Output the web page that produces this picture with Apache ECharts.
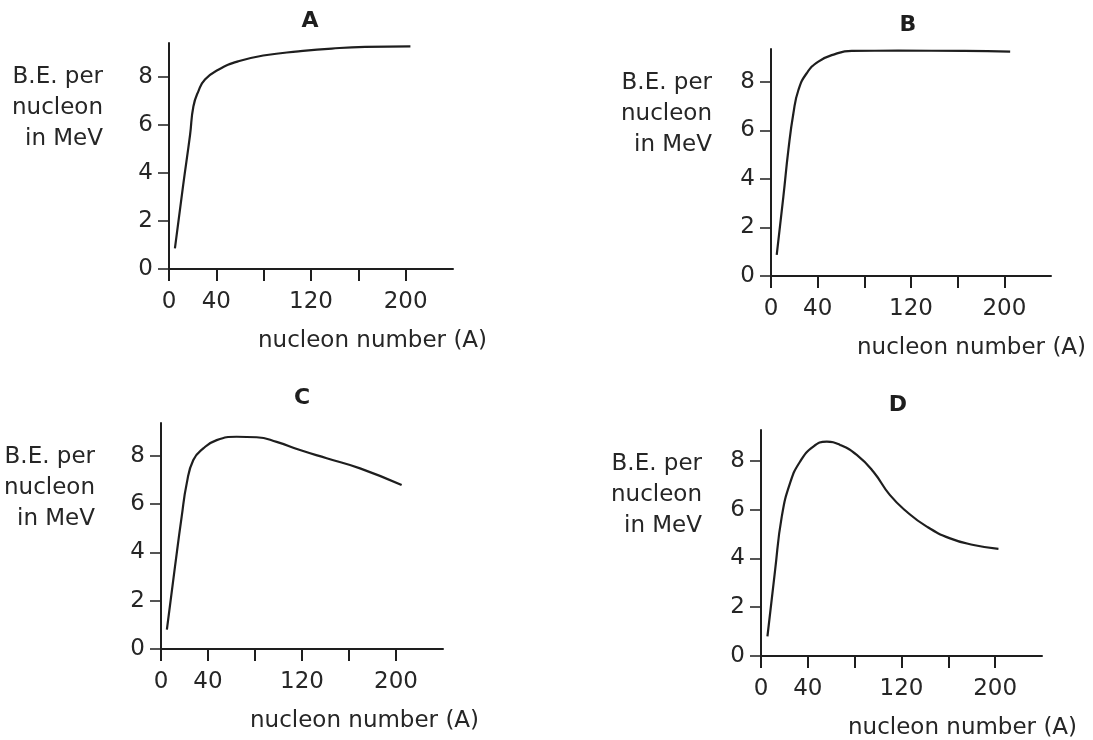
<!DOCTYPE html>
<html>
<head>
<meta charset="utf-8">
<script src="https://cdn.jsdelivr.net/npm/echarts@6/dist/echarts.min.js"></script>
<style>html,body{margin:0;padding:0;background:#fff}#c{width:1093px;height:740px}</style>
</head>
<body>
<div id="c"></div>
<script>
// ---- data ----
const panelNames = ['A', 'B', 'C', 'D'];
const yTickValues = [0, 2, 4, 6, 8];
const xTickValues = [0, 40, 80, 120, 160, 200];
const xLabelValues = [0, 40, 120, 200];
const yAxisName = 'B.E. per\nnucleon\nin MeV';
const xAxisName = 'nucleon number (A)';
const curveA = [[5,0.86],[12,3.5],[17.8,5.58],[20.6,6.76],[24.8,7.39],[30.4,7.88],[41.7,8.29],[58.6,8.64],[81.2,8.89],[109.4,9.05],[137.6,9.17],[165.8,9.24],[204,9.26]];
const curveB = [[4.9,0.87],[10.6,3.27],[14.9,5.2],[19.2,6.71],[23.5,7.67],[30.6,8.36],[40.6,8.84],[54.9,9.15],[69.2,9.28],[109,9.29],[166,9.28],[205,9.25]];
const curveC = [[5,0.8],[11.9,3.41],[17.6,5.48],[21.9,6.86],[27.5,7.83],[36,8.31],[47.4,8.65],[64.4,8.79],[81.4,8.77],[98.4,8.58],[118.3,8.24],[141,7.9],[169.4,7.48],[204.8,6.79]];
const curveD = [[5.5,0.8],[12,3.5],[17.7,5.7],[24.8,7.08],[33.3,7.96],[44.7,8.58],[56.2,8.78],[67.5,8.65],[81.8,8.24],[96,7.55],[110,6.6],[124.5,5.91],[141.6,5.3],[161.5,4.82],[181.5,4.55],[202.8,4.39]];
const curves = [curveA, curveB, curveC, curveD];

// ---- layout ----
const layout = [
  {left:169, top:43,  width:284, height:226, ymax:9.4,  tx:310, ty:21,  ynR:103, ynT:62,  xnL:258, xnY:341},
  {left:771, top:49,  width:280, height:227, ymax:9.36, tx:908, ty:25,  ynR:712, ynT:68,  xnL:857, xnY:348},
  {left:161, top:423, width:282, height:226, ymax:9.36, tx:302, ty:398, ynR:95,  ynT:442, xnL:250, xnY:721},
  {left:761, top:430, width:281, height:226, ymax:9.26, tx:898, ty:405, ynR:702, ynT:449, xnL:848, xnY:728}
];
const FONT = 'DejaVu Sans';
const INK = '#1e1e1e';
const TXT = '#262626';

const grid = [], xAxis = [], yAxis = [], series = [], graphic = [];
layout.forEach((L, i) => {
  grid.push({left:L.left, top:L.top, width:L.width, height:L.height, containLabel:false, outerBoundsMode:'none'});
  xAxis.push({
    type:'value', gridIndex:i, min:0, max:240,
    axisLine:{show:true, onZero:false, lineStyle:{color:INK, width:2}},
    axisTick:{show:true, length:12, inside:false, customValues:xTickValues, lineStyle:{color:INK, width:2}},
    axisLabel:{show:true, margin:22, customValues:xLabelValues, color:TXT, fontFamily:FONT, fontSize:23},
    splitLine:{show:false}
  });
  yAxis.push({
    type:'value', gridIndex:i, min:0, max:L.ymax,
    axisLine:{show:true, onZero:false, lineStyle:{color:INK, width:2}},
    axisTick:{show:true, length:11, inside:false, customValues:yTickValues, lineStyle:{color:INK, width:1.5}},
    axisLabel:{show:true, margin:16, customValues:yTickValues, color:TXT, fontFamily:FONT, fontSize:23},
    splitLine:{show:false}
  });
  series.push({
    type:'line', xAxisIndex:i, yAxisIndex:i, data:curves[i],
    showSymbol:false, smooth:0.5,
    lineStyle:{color:INK, width:2.2}, animation:false, silent:true
  });
  graphic.push({type:'text', x:L.tx, y:L.ty, style:{text:panelNames[i], fill:INK, font:'bold 22px "DejaVu Sans"', textAlign:'center', textVerticalAlign:'middle'}});
  graphic.push({type:'text', x:L.ynR, y:L.ynT, style:{text:yAxisName, fill:TXT, font:'23px "DejaVu Sans"', lineHeight:31, textAlign:'right', textVerticalAlign:'top'}});
  graphic.push({type:'text', x:L.xnL, y:L.xnY, style:{text:xAxisName, fill:TXT, font:'23px "DejaVu Sans"', textAlign:'left', textVerticalAlign:'middle'}});
});

const chart = echarts.init(document.getElementById('c'), null, {renderer:'canvas'});
chart.setOption({
  backgroundColor:'#fff',
  animation:false,
  grid, xAxis, yAxis, series, graphic
});
</script>
</body>
</html>
